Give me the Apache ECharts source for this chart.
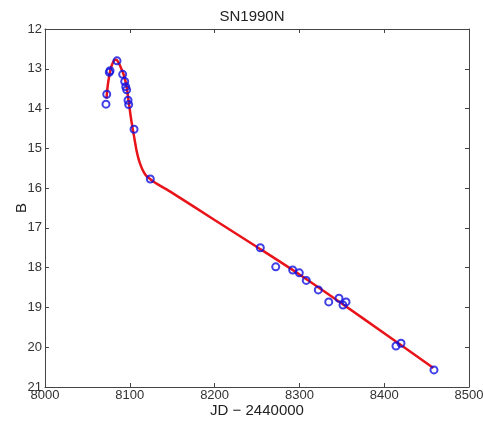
<!DOCTYPE html>
<html>
<head>
<meta charset="utf-8">
<script src="https://cdn.jsdelivr.net/npm/echarts@6/dist/echarts.min.js"></script>
<style>html,body{margin:0;padding:0;background:#fff}#c{width:483px;height:425px}</style>
</head>
<body>
<div id="c"></div>
<script>
// Observations: [JD - 2440000, B]
const obsJD = [8071.9, 8072.8, 8075.8, 8076.7, 8084.9, 8091.6, 8094.0, 8095.2, 8096.3, 8097.9, 8098.7, 8105.0, 8124.2,
               8253.9, 8272.1, 8292.1, 8299.9, 8308.1, 8322.3, 8334.6, 8346.7, 8351.4, 8355.0, 8413.9, 8419.8, 8458.7];
const obsB  = [13.89, 13.64, 13.09, 13.05, 12.80, 13.14, 13.32, 13.45, 13.53, 13.79, 13.90, 14.52, 15.77,
               17.50, 17.98, 18.06, 18.13, 18.32, 18.56, 18.86, 18.77, 18.94, 18.86, 19.97, 19.90, 20.57];
// Fitted light curve
const fitJD = [8072.5, 8074, 8076, 8078, 8080, 8082, 8084, 8086, 8088, 8090, 8092, 8094, 8096, 8098, 8100,
               8102, 8104, 8106, 8108, 8110, 8112, 8115, 8118, 8121, 8124, 8128, 8135, 8150, 8200,
               8250, 8300, 8350, 8400, 8458];
const fitB  = [13.75, 13.42, 13.15, 12.96, 12.85, 12.78, 12.77, 12.82, 12.90, 13.00, 13.10, 13.24, 13.42, 13.72, 14.03,
               14.33, 14.58, 14.82, 15.06, 15.24, 15.38, 15.54, 15.65, 15.72, 15.77, 15.84, 15.93, 16.12, 16.80,
               17.48, 18.17, 18.90, 19.65, 20.52];
const xTicks = [8000, 8100, 8200, 8300, 8400, 8500];
const yTicks = [12, 13, 14, 15, 16, 17, 18, 19, 20, 21];

const font = '"Liberation Sans", Arial, sans-serif';
const axisCol = '#444';
const chart = echarts.init(document.getElementById('c'));
const baseX = {
  type: 'value', min: xTicks[0], max: xTicks[xTicks.length - 1], interval: 100,
  axisLine: { show: true, onZero: false, lineStyle: { color: axisCol, width: 1 } },
  axisTick: { show: true, inside: true, length: 4, lineStyle: { color: axisCol } },
  splitLine: { show: false }
};
const baseY = {
  type: 'value', min: yTicks[0], max: yTicks[yTicks.length - 1], interval: 1, inverse: true,
  axisLine: { show: true, onZero: false, lineStyle: { color: axisCol, width: 1 } },
  axisTick: { show: true, inside: true, length: 4, lineStyle: { color: axisCol } },
  splitLine: { show: false }
};
chart.setOption({
  animation: false,
  backgroundColor: '#fff',
  title: {
    text: 'SN1990N', left: 247, top: 4, textAlign: 'center',
    textStyle: { fontFamily: font, fontSize: 15, fontWeight: 'normal', color: '#222' }
  },
  grid: { left: 45, right: 14, top: 29, bottom: 38, containLabel: false, outerBoundsMode: 'none' },
  xAxis: [
    Object.assign({}, baseX, {
      position: 'bottom',
      name: 'JD − 2440000', nameLocation: 'middle', nameGap: 16, nameMoveOverlap: false,
      nameTextStyle: { fontFamily: font, fontSize: 15, color: '#222', verticalAlign: 'top' },
      axisLabel: { show: true, margin: 2, fontFamily: font, fontSize: 13, color: '#333',
                   formatter: v => String(v) }
    }),
    Object.assign({}, baseX, { position: 'top', axisLabel: { show: false } })
  ],
  yAxis: [
    Object.assign({}, baseY, {
      position: 'left',
      name: 'B', nameLocation: 'middle', nameGap: 16, nameRotate: 90, nameMoveOverlap: false,
      nameTextStyle: { fontFamily: font, fontSize: 15, color: '#222' },
      axisLabel: { show: true, margin: 3, fontFamily: font, fontSize: 13, color: '#333',
                   formatter: v => String(v) }
    }),
    Object.assign({}, baseY, { position: 'right', axisLabel: { show: false } })
  ],
  series: [
    {
      type: 'line', xAxisIndex: 0, yAxisIndex: 0,
      data: fitJD.map((x, i) => [x, fitB[i]]),
      showSymbol: false, smooth: 0.3, z: 2,
      lineStyle: { color: '#e8141a', width: 2.5 }
    },
    {
      type: 'scatter', xAxisIndex: 0, yAxisIndex: 0,
      data: obsJD.map((x, i) => [x, obsB[i]]),
      symbol: 'circle', symbolSize: 7, z: 3,
      itemStyle: { color: 'rgba(0,0,0,0)', borderColor: '#1010e0', borderWidth: 2 }
    }
  ]
});
</script>
</body>
</html>
